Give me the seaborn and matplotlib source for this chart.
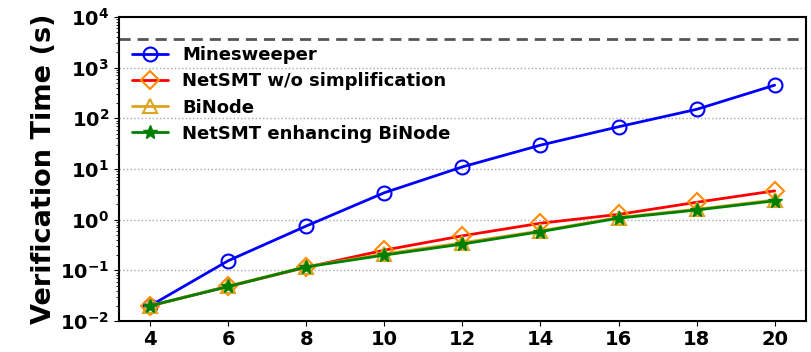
import matplotlib
matplotlib.use("Agg")
import matplotlib.pyplot as plt
import seaborn as sns
import pandas as pd
import numpy as np

sizes = [4, 6, 8, 10, 12, 14, 16, 18, 20]
minesweeper = [0.02, 0.155, 0.75, 3.4, 11, 29.5, 68, 150, 450]
netsmt_wo = [0.02, 0.048, 0.115, 0.25, 0.48, 0.85, 1.27, 2.2, 3.7]
binode = [0.02, 0.049, 0.118, 0.21, 0.35, 0.6, 1.1, 1.6, 2.45]
netsmt_bi = [0.02, 0.048, 0.117, 0.2, 0.33, 0.58, 1.07, 1.55, 2.35]
timeout = 3600

series_names = ["Minesweeper", "NetSMT w/o simplification", "BiNode", "NetSMT enhancing BiNode"]
series_vals = [minesweeper, netsmt_wo, binode, netsmt_bi]

sns.set_style("ticks")
plt.rcParams["font.family"] = ["DejaVu Sans"]
plt.rcParams["font.weight"] = "bold"
plt.rcParams["mathtext.default"] = "bf"
plt.rcParams["text.color"] = "black"
plt.rcParams["axes.labelcolor"] = "black"
plt.rcParams["xtick.color"] = "black"
plt.rcParams["ytick.color"] = "black"
plt.rcParams["axes.edgecolor"] = "black"

fig = plt.figure(figsize=(8.11, 3.52), dpi=100)
ax = fig.add_axes([0.1467, 0.088, 0.847, 0.864])

styles = [
    dict(color="#0000ff", marker="o", mfc="none", mec="#0000ff", ms=10, mew=1.5),
    dict(color="#ff0000", marker="D", mfc="none", mec="#ff8c00", ms=9, mew=1.5),
    dict(color="#daa520", marker="^", mfc="none", mec="#daa520", ms=10, mew=1.5),
    dict(color="#008000", marker="*", mfc="#008000", mec="#008000", ms=10, mew=1.0),
]

for name, vals, st in zip(series_names, series_vals, styles):
    df = pd.DataFrame({"size": sizes, "time": vals})
    sns.lineplot(data=df, x="size", y="time", ax=ax, label=name, linewidth=2.0, **st)

ax.axhline(timeout, color="#555555", linestyle=(0, (4, 2.5)), linewidth=2)
ax.set_yscale("log")
ax.set_ylim(1e-2, 1e4)
ax.set_xlim(3.2, 20.8)
ax.set_xticks(sizes)
ax.yaxis.grid(True, which="major", linestyle=":", color="#aaaaaa", linewidth=1)
ax.set_xlabel("")
ax.set_ylabel("Verification Time (s)", fontsize=19.5, fontweight="bold", labelpad=2)
ax.tick_params(axis="both", labelsize=14)
ax.tick_params(axis="x", pad=3)
for lab in ax.get_xticklabels() + ax.get_yticklabels():
    lab.set_fontweight("bold")
for sp in ax.spines.values():
    sp.set_visible(True)
    sp.set_linewidth(1.5)

leg = ax.legend(loc="upper left", bbox_to_anchor=(0.0, 0.945), frameon=False,
                prop={"weight": "bold", "size": 13}, handlelength=2.0,
                labelspacing=0.45, borderaxespad=0.3, handletextpad=0.8)

fig.savefig("out.png", dpi=100)
